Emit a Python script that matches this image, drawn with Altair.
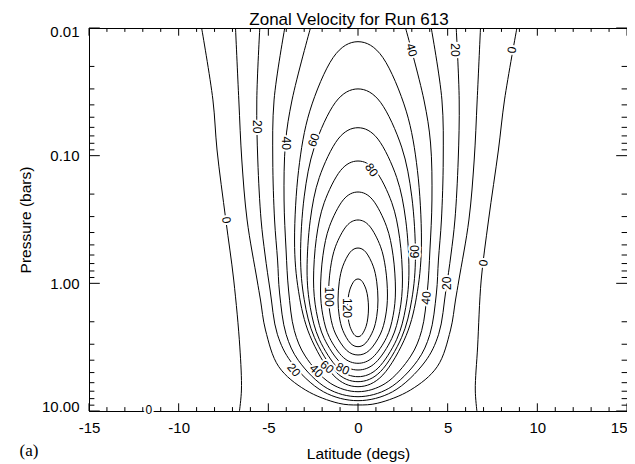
import altair as alt
import pandas as pd

W, H = 538, 383

# ---------------- contour data: latitude (deg) and pressure (bars) ----------------
# level 0: two separate open lines (west and east)
zero_p = [0.01, 0.0366, 0.0903, 0.319, 0.942, 3.15, 6.85, 10.0]
zero_lat_west = [-8.72, -8.09, -7.86, -7.37, -6.93, -6.59, -6.50, -6.61]
zero_lat_east = [8.86, 8.17, 7.83, 7.28, 6.87, 6.67, 6.54, 6.63]

# levels 10-40: open at the top, closed at the bottom (west half-widths, top -> bottom)
open_levels = [10, 20, 30, 40]
open_p = {
    10: [0.01, 0.0366, 0.1081, 0.319, 0.9415, 1.351, 2.320, 4.497, 6.845, 8.701, 8.971],
    20: [0.01, 0.0366, 0.1081, 0.319, 0.600, 1.128, 2.507, 4.131, 7.073, 8.302],
    30: [0.01, 0.0366, 0.1081, 0.319, 0.657, 1.190, 2.516, 4.015, 6.650, 7.725],
    40: [0.01, 0.0366, 0.0796, 0.2225, 0.548, 1.128, 2.349, 3.714, 6.095, 7.062],
}
open_halfwidth = {
    10: [6.830, 6.646, 6.479, 6.184, 5.627, 5.437, 5.159, 4.418, 2.930, 1.075, 0.0],
    20: [5.476, 5.643, 5.588, 5.404, 5.181, 4.903, 4.496, 3.727, 1.922, 0.0],
    30: [4.084, 4.680, 4.752, 4.652, 4.485, 4.373, 4.006, 3.326, 1.716, 0.0],
    40: [2.652, 3.677, 4.045, 4.123, 4.011, 3.872, 3.549, 2.942, 1.515, 0.0],
}

# levels 50-120: closed contours (half-widths from top to bottom)
closed_levels = [50, 60, 70, 80, 90, 100, 110, 120]
closed_p = {
    50: [0.0128, 0.01704, 0.0448, 0.1309, 0.4576, 1.154, 2.556, 5.220, 6.451],
    60: [0.0300, 0.0382, 0.0857, 0.2103, 0.600, 1.334, 2.649, 4.909, 5.893],
    70: [0.0604, 0.0742, 0.1483, 0.3202, 0.786, 1.541, 2.746, 4.617, 5.386],
    80: [0.1101, 0.1307, 0.2333, 0.4442, 0.9415, 1.662, 2.704, 4.192, 4.773],
    90: [0.1926, 0.2218, 0.3574, 0.6075, 1.128, 1.791, 2.663, 3.805, 4.230],
    100: [0.319, 0.356, 0.512, 0.7687, 1.234, 1.803, 2.494, 3.340, 3.641],
    110: [0.529, 0.570, 0.734, 0.9725, 1.351, 1.814, 2.335, 2.931, 3.135],
    120: [0.925, 0.964, 1.110, 1.299, 1.560, 1.870, 2.184, 2.511, 2.618],
}
closed_halfwidth = {
    50: [0, 1.387, 2.689, 3.315, 3.538, 3.315, 2.689, 1.387, 0],
    60: [0, 1.256, 2.434, 3.001, 3.203, 3.001, 2.434, 1.256, 0],
    70: [0, 1.114, 2.159, 2.662, 2.841, 2.662, 2.159, 1.114, 0],
    80: [0, 0.972, 1.884, 2.323, 2.479, 2.323, 1.884, 0.972, 0],
    90: [0, 0.819, 1.588, 1.957, 2.089, 1.957, 1.588, 0.819, 0],
    100: [0, 0.644, 1.249, 1.539, 1.643, 1.539, 1.249, 0.644, 0],
    110: [0, 0.437, 0.847, 1.044, 1.114, 1.044, 0.847, 0.437, 0],
    120: [0, 0.229, 0.445, 0.548, 0.585, 0.548, 0.445, 0.229, 0],
}

# contour labels
label_text = ["20", "40", "60", "0", "80", "100", "120", "20", "40", "60", "80",
              "60", "40", "20", "0", "40", "20", "0", "0"]
label_lat = [-5.63, -4.04, -2.47, -7.34, 0.76, -1.63, -0.61, -3.58, -2.33, -1.73, -0.85,
             3.20, 3.80, 4.96, 7.00, 2.99, 5.43, 8.58, -11.66]
label_p = [0.0593, 0.0800, 0.0754, 0.319, 0.1295, 1.272, 1.56, 4.77, 4.86, 4.52, 4.67,
           0.565, 1.302, 1.0, 0.693, 0.01487, 0.01487, 0.01487, 9.82]
label_angle = [90, 90, 290, 83, 55, 90, 90, 50, 45, 40, 25,
               270, 275, 270, 277, 74, 90, 277, 0]

# axis ticks
x_major = [-15, -10, -5, 0, 5, 10, 15]
x_minor = [-14, -13, -12, -11, -9, -8, -7, -6, -4, -3, -2, -1,
           1, 2, 3, 4, 6, 7, 8, 9, 11, 12, 13, 14]
y_major = [0.01, 0.1, 1.0, 10.0]
y_minor = [0.02, 0.03, 0.04, 0.05, 0.06, 0.07, 0.08, 0.09,
           0.2, 0.3, 0.4, 0.5, 0.6, 0.7, 0.8, 0.9,
           2, 3, 4, 5, 6, 7, 8, 9]

# ---------------- build tables ----------------
open_rows, closed_rows = [], []


def push(rows, seg, pts):
    for i, (lat, p) in enumerate(pts):
        rows.append({"seg": seg, "order": i, "lat": lat, "p": p})


push(open_rows, "0w", list(zip(zero_lat_west, zero_p)))
push(open_rows, "0e", list(zip(zero_lat_east, zero_p)))
for lev in open_levels:
    hw, ps = open_halfwidth[lev], open_p[lev]
    west = [(-h, p) for h, p in zip(hw, ps)]
    east = [(h, p) for h, p in zip(hw[:-1], ps[:-1])][::-1]
    push(open_rows, f"c{lev}", west + east)
for lev in closed_levels:
    hw, ps = closed_halfwidth[lev], closed_p[lev]
    west = [(-h, p) for h, p in zip(hw, ps)]
    east = [(h, p) for h, p in zip(hw[1:-1], ps[1:-1])][::-1]
    push(closed_rows, f"c{lev}", west + east)

df_open = pd.DataFrame(open_rows)
df_closed = pd.DataFrame(closed_rows)
df_labels = pd.DataFrame({"lat": label_lat, "p": label_p, "t": label_text, "ang": label_angle})

xs = alt.Scale(domain=[-15, 15], nice=False, zero=False)
ys = alt.Scale(type="log", domain=[0.01, 10], reverse=True, nice=False)

x_axis = alt.Axis(values=x_major, labelExpr="'' + datum.value", title="Latitude (degs)",
                  ticks=False, tickSize=0, grid=False, labelPadding=9, titlePadding=11,
                  labelFlush=False,
                  labelAlign={"condition": {"test": "datum.value == 15", "value": "right"},
                              "value": "center"})
y_axis = alt.Axis(values=y_major, format=".2f", title="Pressure (bars)",
                  ticks=False, tickSize=0, grid=False, labelPadding=10, titlePadding=8,
                  labelFlush=True, labelFlushOffset=3.5)

X = alt.X("lat:Q", scale=xs, axis=x_axis)
Y = alt.Y("p:Q", scale=ys, axis=y_axis)

line_style = dict(color="black", strokeWidth=1, clip=True)

open_lines = alt.Chart(df_open).mark_line(interpolate="catmull-rom", **line_style).encode(
    x=X, y=Y, detail="seg:N", order="order:Q")

closed_lines = alt.Chart(df_closed).mark_line(interpolate="cardinal-closed", **line_style).encode(
    x=X, y=Y, detail="seg:N", order="order:Q")

tick_style = dict(color="black", strokeWidth=1)


def xticks(vals, length):
    d = pd.DataFrame({"lat": vals})
    bot = alt.Chart(d).mark_rule(**tick_style).encode(
        x=X, y=alt.value(H), y2=alt.value(H - length))
    top = alt.Chart(d).mark_rule(**tick_style).encode(
        x=X, y=alt.value(0), y2=alt.value(length))
    return [bot, top]


def yticks(vals, length):
    d = pd.DataFrame({"p": vals})
    left = alt.Chart(d).mark_rule(**tick_style).encode(
        y=Y, x=alt.value(0), x2=alt.value(length))
    right = alt.Chart(d).mark_rule(**tick_style).encode(
        y=Y, x=alt.value(W), x2=alt.value(W - length))
    return [left, right]


ticks = xticks(x_major, 7.7) + xticks(x_minor, 3.9) + yticks(y_major, 10.8) + yticks(y_minor, 5.4)

label_enc = dict(x=X, y=Y, text="t:N", angle=alt.Angle("ang:Q", scale=None))
halo = alt.Chart(df_labels).mark_text(fontSize=12, font="Liberation Sans", color="white",
                                      stroke="white", strokeWidth=4,
                                      align="center", baseline="middle").encode(**label_enc)
labels = alt.Chart(df_labels).mark_text(fontSize=12, font="Liberation Sans", color="black",
                                        align="center", baseline="middle").encode(**label_enc)

panel_tag = alt.Chart(pd.DataFrame({"t": ["(a)"]})).mark_text(
    font="Liberation Serif", fontSize=17, color="black", align="center", baseline="middle"
).encode(text="t:N", x=alt.value(-60), y=alt.value(423))

chart = alt.layer(open_lines, closed_lines, *ticks, halo, labels, panel_tag).properties(
    width=W, height=H,
    title=alt.TitleParams("Zonal Velocity for Run 613", fontSize=17, fontWeight="normal",
                          font="Liberation Sans", color="black", frame="group", dx=-9,
                          offset=0, dy=4),
    autosize=alt.AutoSizeParams(type="none"),
    padding={"left": 81, "top": 20, "right": 0, "bottom": 53},
).configure_view(stroke="black", strokeWidth=1).configure_axis(
    domainColor="black", labelColor="black", titleColor="black",
    labelFont="Liberation Sans", titleFont="Liberation Sans",
    labelFontSize=15, titleFontSize=15.5, titleFontWeight="normal",
)

chart.save("out.html", embed_options={"renderer": "svg", "actions": False})
